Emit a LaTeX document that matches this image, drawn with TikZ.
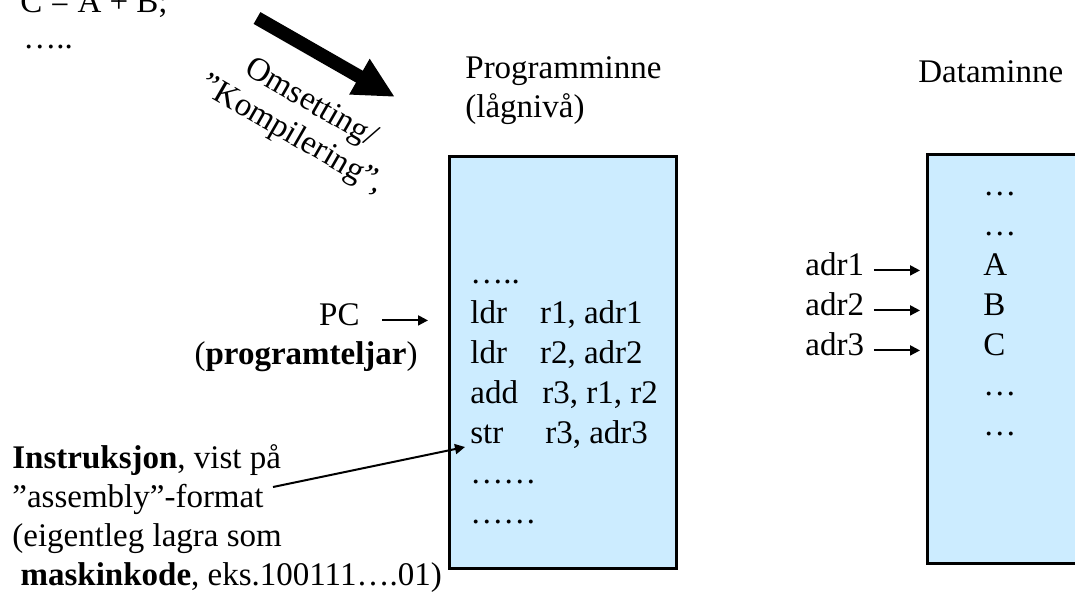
\documentclass[tikz,border=0pt]{standalone}
\usepackage{fontspec}
\setmainfont{Liberation Serif}
\usetikzlibrary{arrows.meta}
\definecolor{memblue}{RGB}{204,236,255}

\tikzset{
  txt/.style={font=\fontsize{16.5}{19.5}\selectfont, inner sep=0pt},
  mem/.style={draw, line width=1.5pt, fill=memblue},
  ptr/.style={-{Triangle[length=5pt,width=5pt]}, line width=1pt},
}

\begin{document}
\begin{tikzpicture}[x=0.5pt, y=-0.5pt, every node/.style={txt}]
  \useasboundingbox (0,0) rectangle (1075,594);
  \clip (0,0) rectangle (1075,594);

  % high level source (top is cut off)
  \node[anchor=base west] (src) at (20,12) {C = A + B;};
  \node[anchor=base west] (srcdots) at (23,48) {…..};

  % translation
  \coordinate (convfrom) at (257,18);
  \coordinate (convto) at (395,97);
  \draw[line width=6.8pt, -{Triangle[length=20.5pt,width=19pt]}] (convfrom) -- (convto);
  \node[rotate=-30, align=center, font=\fontsize{16.5}{18.5}\selectfont] (conv) at (301,120)
    {Omsetting/\\”Kompilering”,};

  % the two memories
  \node[mem, minimum width=113.5pt, minimum height=206pt] (progmem) at (562.5,362) {};
  \node[mem, minimum width=100pt, minimum height=204.5pt] (datamem) at (1027,358.5) {};
  \node[anchor=base west, align=left] (proglbl) at (465,117) {Programminne\\(lågnivå)};
  \node[anchor=base west] (datalbl) at (918,82) {Dataminne};

  % program
  \foreach \code [count=\i from 0] in {….., {ldr\hspace{1em}r1, adr1}, {ldr\hspace{1em}r2, adr2},
      {add\hspace{0.74em}r3, r1, r2}, {str\hspace{1.27em}r3, adr3}, ……, ……}
    \node[anchor=base west] (code\i) at (470,283+40*\i) {\code};

  % data
  \foreach \cell [count=\i from 0] in {…, …, A, B, C, …, …}
    \node[anchor=base west] (cell\i) at (983,195+40*\i) {\cell};

  \foreach \i in {1,2,3} {
    \node[anchor=base west] (adr\i) at (805,235+40*\i) {adr\i};
    \draw[ptr, shorten <=4.75pt, shorten >=2.75pt] (adr\i.mid east) -- (adr\i.mid east -| datamem.west);
  }

  % program counter
  \node[anchor=base east] (pc) at (360,325) {PC};
  \node[anchor=base east] (pcname) at (418,364) {(\textbf{programteljar})};
  \draw[ptr, shorten <=11pt, shorten >=9.75pt] (pc.mid east) -- (pc.mid east -| progmem.west);

  % instruction note
  \node[anchor=base west, align=left] (instr) at (12,585)
    {\textbf{Instruksjon}, vist på\\”assembly”-format\\(eigentleg lagra som\\\hspace*{0.25em}\textbf{maskinkode}, eks.100111….01)};
  \coordinate (instrfrom) at (273,487);
  \draw[ptr] (instrfrom) -- ([xshift=-2.5pt,yshift=-2pt]code4.base west);
\end{tikzpicture}
\end{document}
